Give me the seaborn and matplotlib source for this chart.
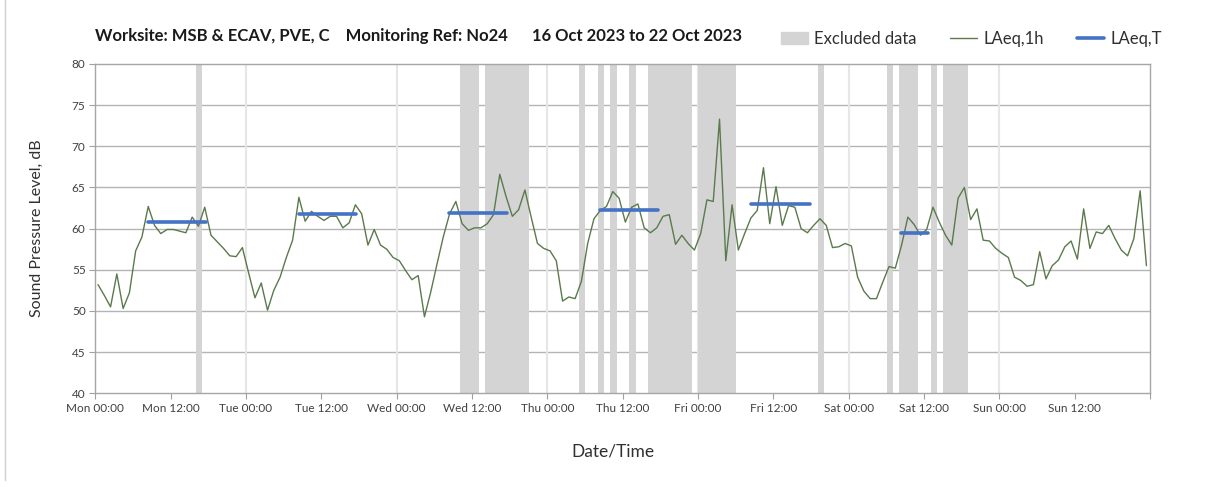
import numpy as np
import pandas as pd
import matplotlib
matplotlib.use("Agg")
import matplotlib.pyplot as plt
import matplotlib.patches as mpatches
import matplotlib.lines as mlines
import seaborn as sns

# ---------------- data ----------------
title = "Worksite: MSB & ECAV, PVE, C    Monitoring Ref: No24      16 Oct 2023 to 22 Oct 2023"

# hourly LAeq,1h values (dB), Mon 00:00 onwards
laeq_1h = [
    53.2, 51.9, 50.5, 54.5, 50.3, 52.2, 57.3, 59.0, 62.7, 60.4, 59.4, 59.9,
    59.9, 59.7, 59.5, 61.4, 60.3, 62.6, 59.2, 58.4, 57.6, 56.7, 56.6, 57.7,
    54.6, 51.6, 53.4, 50.1, 52.5, 54.1, 56.5, 58.6, 63.8, 60.9, 62.1, 61.5,
    61.0, 61.5, 61.5, 60.1, 60.7, 62.9, 61.8, 58.0, 59.9, 58.0, 57.5, 56.5,
    56.1, 54.9, 53.8, 54.3, 49.3, 52.3, 55.7, 59.0, 61.8, 63.3, 60.6, 59.8,
    60.1, 60.1, 60.6, 61.7, 66.6, 63.9, 61.5, 62.3, 64.7, 61.4, 58.2, 57.6,
    57.3, 56.1, 51.2, 51.7, 51.5, 53.6, 58.2, 61.2, 62.2, 62.7, 64.5, 63.7,
    60.8, 62.6, 63.0, 60.1, 59.5, 60.1, 61.5, 61.7, 58.1, 59.2, 58.2, 57.4,
    59.4, 63.5, 63.3, 73.3, 56.1, 62.9, 57.4, 59.4, 61.3, 62.2, 67.4, 60.6,
    65.1, 60.4, 62.8, 62.6, 60.0, 59.5, 60.4, 61.2, 60.4, 57.7, 57.8, 58.2,
    57.9, 54.1, 52.4, 51.5, 51.5, 53.5, 55.4, 55.2, 58.0, 61.4, 60.5, 59.2,
    59.9, 62.6, 60.8, 59.2, 58.0, 63.7, 65.0, 61.1, 62.4, 58.6, 58.5, 57.6,
    57.0, 56.5, 54.1, 53.7, 53.0, 53.2, 57.2, 53.9, 55.5, 56.2, 57.8, 58.5,
    56.3, 62.4, 57.6, 59.6, 59.4, 60.4, 58.8, 57.4, 56.7, 58.8, 64.6, 55.5,
]
reading_offset_h = 0.43  # time of each hourly reading within its hour

# LAeq,T daytime periods: start hour, end hour (from Mon 00:00), level
laeq_t_start = [8.4, 32.4, 56.4, 80.4, 104.4, 128.4]
laeq_t_end = [17.7, 41.6, 65.6, 89.7, 113.8, 132.7]
laeq_t_value = [60.8, 61.8, 61.9, 62.3, 63.0, 59.5]

# excluded data intervals (hours from Mon 00:00)
excl_start = [16, 58, 62, 77, 80, 82, 85, 88, 96, 115, 126, 128, 133, 135]
excl_end = [17, 61, 69, 78, 81, 83, 86, 95, 102, 116, 127, 131, 134, 139]

tick_hours = list(range(0, 169, 12))
tick_labels = ["Mon 00:00", "Mon 12:00", "Tue 00:00", "Tue 12:00", "Wed 00:00",
               "Wed 12:00", "Thu 00:00", "Thu 12:00", "Fri 00:00", "Fri 12:00",
               "Sat 00:00", "Sat 12:00", "Sun 00:00", "Sun 12:00", ""]

# ---------------- style ----------------
sns.set_theme(style="white")
plt.rcParams['font.family'] = ['Lato', 'DejaVu Sans']

W, H = 1208, 487
fig = plt.figure(figsize=(W / 100, H / 100), dpi=100)
ax = fig.add_axes([95.3 / W, 1 - 393.3 / H, (1150 - 95.3) / W, (393.3 - 64) / H])

grey_band = "#d4d4d4"
line_green = "#5b7a4c"
blue = "#4472c4"

# excluded bands
for s, e in zip(excl_start, excl_end):
    ax.axvspan(s + 0.05, e + 0.05, color=grey_band, lw=0, zorder=1)

# grid
for yv in range(45, 80, 5):
    ax.axhline(yv, color="#b4b4b4", lw=1.0, zorder=0.5)
for xv in range(24, 168, 24):
    ax.axvline(xv, color="#e6e6e6", lw=1.5, zorder=0.6)

df = pd.DataFrame({"hour": np.arange(len(laeq_1h)) + reading_offset_h,
                   "LAeq": laeq_1h})
sns.lineplot(data=df, x="hour", y="LAeq", ax=ax, color=line_green, lw=1.0,
             zorder=3, estimator=None)

seg = pd.DataFrame({
    "period": np.repeat(np.arange(len(laeq_t_value)), 2),
    "hour": np.ravel(np.column_stack([laeq_t_start, laeq_t_end])),
    "level": np.repeat(laeq_t_value, 2),
})
sns.lineplot(data=seg, x="hour", y="level", units="period", estimator=None,
             ax=ax, color=blue, lw=2.6, zorder=4, legend=False)

ax.set_xlim(0, 168)
ax.set_ylim(40, 80)
ax.set_xticks(tick_hours)
ax.set_xticklabels(tick_labels, fontsize=8.5, color="#404040")
ax.set_yticks(range(40, 81, 5))
ax.set_yticklabels([str(v) for v in range(40, 81, 5)], fontsize=8.5, color="#404040")
ax.tick_params(axis="both", which="both", direction="out", length=4, width=0.8,
               color="#a0a0a0", pad=3)
ax.tick_params(axis="x", bottom=True)
ax.tick_params(axis="y", left=True)
for sp in ax.spines.values():
    sp.set_color("#a6a6a6")
    sp.set_linewidth(1.0)
ax.set_xlabel("Date/Time", fontsize=12.5, color="#303030", labelpad=21)
ax.xaxis.label.set_x(0.491)
ax.set_ylabel("Sound Pressure Level, dB", fontsize=11.5, color="#303030", labelpad=20)

fig.text(95 / W, 1 - 36 / H, title, fontsize=12, fontweight="bold",
         color="#1a1a1a", va="center", ha="left")

handles = [
    mpatches.Patch(color=grey_band, label="Excluded data"),
    mlines.Line2D([], [], color=line_green, lw=1.0, label="LAeq,1h"),
    mlines.Line2D([], [], color=blue, lw=2.6, label="LAeq,T"),
]
fig.legend(handles=handles, loc="center left", bbox_to_anchor=(766 / W, 1 - 39 / H),
           ncol=3, frameon=False, fontsize=12, handlelength=1.6,
           columnspacing=2.0, handletextpad=0.4, labelcolor="#303030")

fig.add_artist(mlines.Line2D([5 / W, 5 / W], [1 - 480 / H, 1], color="#d0d0d0", lw=1))

fig.savefig("out.png", dpi=100)
